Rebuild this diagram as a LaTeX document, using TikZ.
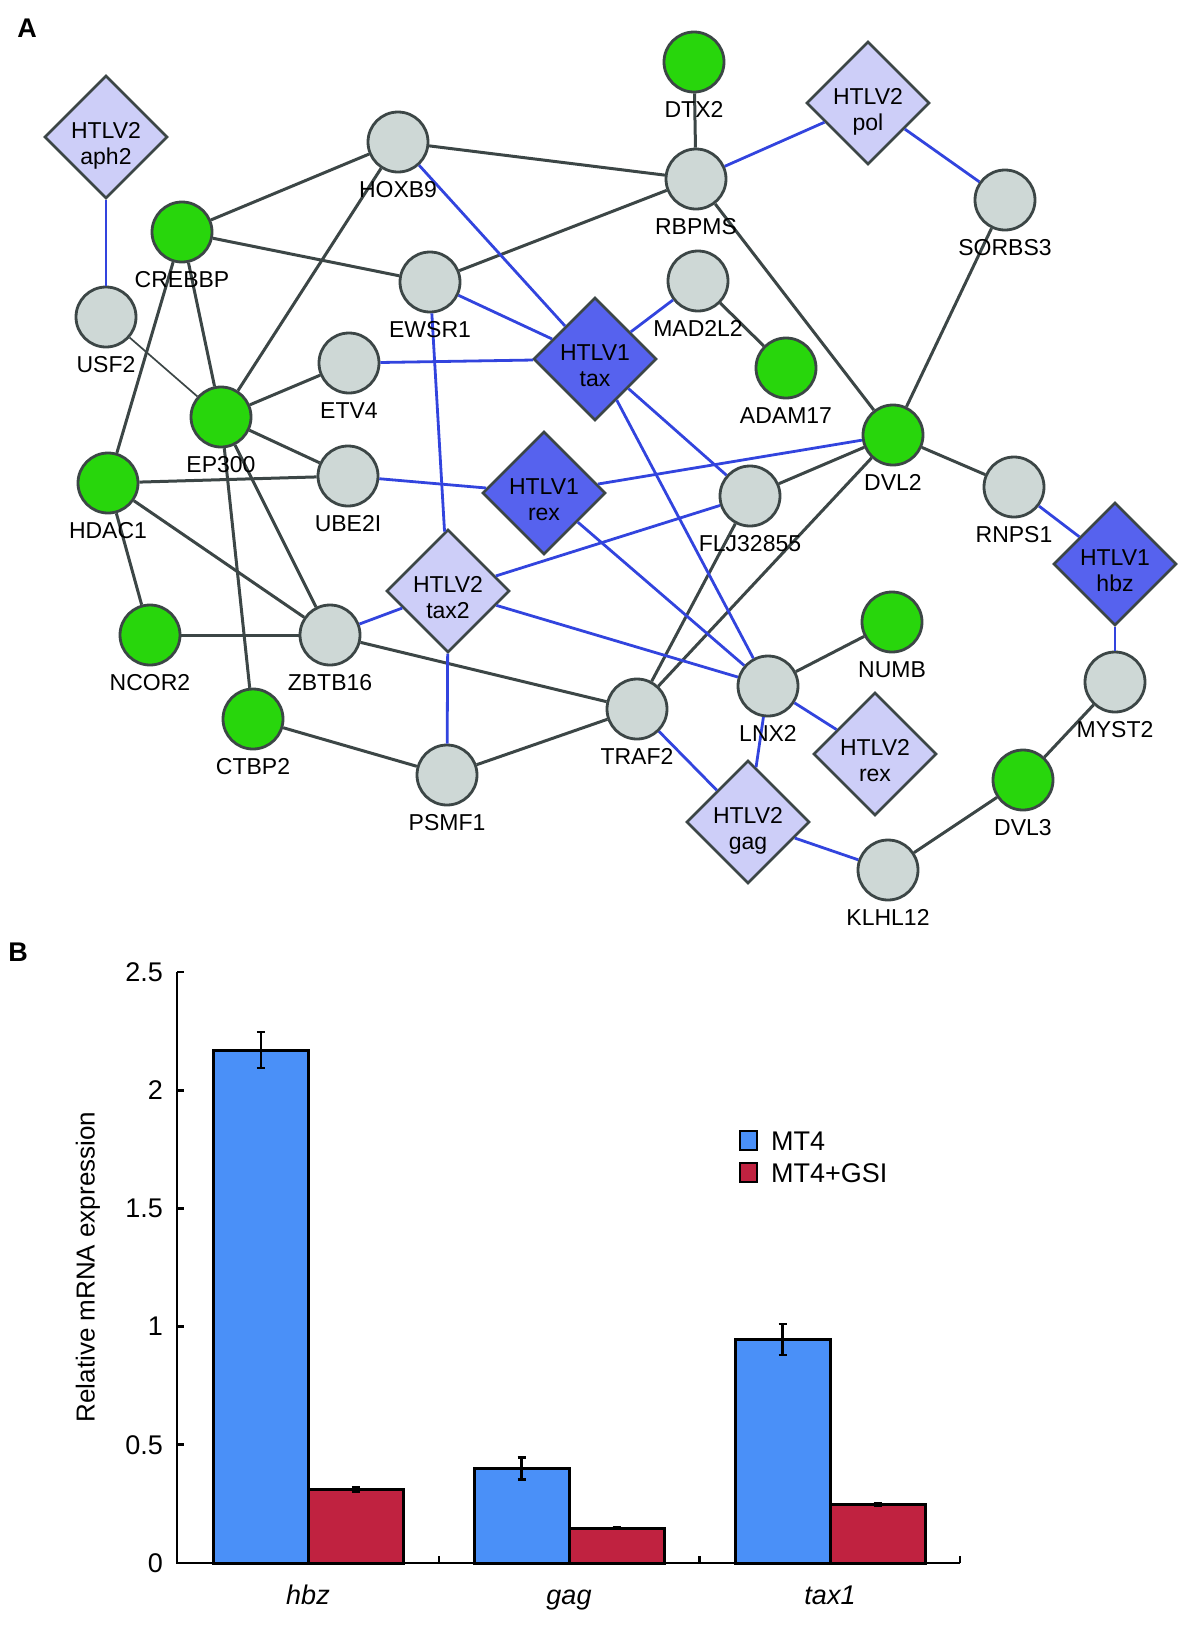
\documentclass[tikz,border=0pt]{standalone}
\usepackage{fontspec}
\setmainfont{Liberation Sans}
\usetikzlibrary{shapes.geometric}
\definecolor{nborder}{RGB}{60,70,70}
\definecolor{gfill}{RGB}{206,216,214}
\definecolor{grfill}{RGB}{40,214,12}
\definecolor{lav}{RGB}{205,206,248}
\definecolor{dblue}{RGB}{86,98,238}
\definecolor{egray}{RGB}{60,70,70}
\definecolor{eblue}{RGB}{50,68,222}
\definecolor{barblue}{RGB}{74,144,248}
\definecolor{barred}{RGB}{192,34,64}
\begin{document}
\begin{tikzpicture}[x=1pt,y=-1pt,
  gn/.style={circle, draw=nborder, line width=2.8pt, fill=gfill, minimum size=60pt, inner sep=0pt},
  gr/.style={gn, fill=grfill},
  ld/.style={diamond, aspect=1, draw=nborder, line width=2.7pt, fill=lav, minimum width=123pt, minimum height=123pt, inner sep=0pt},
  dd/.style={ld, fill=dblue},
  lbl/.style={font=\fontsize{23}{26.7}\selectfont, anchor=base, inner sep=0pt},
  dtxt/.style={font=\fontsize{23}{26.7}\selectfont, align=center, anchor=north, inner sep=0pt},
  ge/.style={draw=egray, line width=3pt},
  gthin/.style={draw=egray, line width=1.7pt},
  be/.style={draw=eblue, line width=2.8pt},
  bthin/.style={draw=eblue, line width=1.7pt},
  ax/.style={draw=black, line width=2.8pt},
  barst/.style={draw=black, line width=3pt},
  err/.style={draw=black, line width=2.4pt},
  cf/.style={font=\fontsize{27}{31}\selectfont, inner sep=0pt},
  hd/.style={font=\bfseries\fontsize{27}{32}\selectfont, inner sep=0pt}
]
\useasboundingbox (0,0) rectangle (1200,1626);
\node[hd] (pA) at (27,28) {A};
\node[hd] (pB) at (18,952) {B};

% circle nodes
\foreach \n/\x/\y/\t/\s in {
  hoxb9/398/142/HOXB9/gn, dtx2/694/62/DTX2/gr, rbpms/696/179/RBPMS/gn,
  sorbs3/1005/200/SORBS3/gn, crebbp/182/232/CREBBP/gr, ewsr1/430/282/EWSR1/gn,
  mad2l2/698/281/MAD2L2/gn, usf2/106/317/USF2/gn, etv4/349/363/ETV4/gn,
  adam17/786/368/ADAM17/gr, ep300/221/417/EP300/gr, dvl2/893/435/DVL2/gr,
  hdac1/108/483/HDAC1/gr, ube2i/348/476/UBE2I/gn, flj/750/496/FLJ32855/gn,
  rnps1/1014/487/RNPS1/gn, numb/892/622/NUMB/gr, ncor2/150/635/NCOR2/gr,
  zbtb16/330/635/ZBTB16/gn, lnx2/768/686/LNX2/gn, myst2/1115/682/MYST2/gn,
  traf2/637/709/TRAF2/gn, ctbp2/253/719/CTBP2/gr, psmf1/447/775/PSMF1/gn,
  dvl3/1023/780/DVL3/gr, klhl12/888/870/KLHL12/gn}
{
  \node[\s] (\n) at (\x,\y) {};
}

% diamonds
\foreach \n/\x/\y/\t/\s in {
  aph2/106/137/aph2/ld, pol/868/103/pol/ld, tax/595/359/tax/dd,
  rexa/544/493/rex/dd, taxb/448/591/tax2/ld, hbz/1115/564/hbz/dd,
  rexb/875/754/rex/ld, gag/748/822/gag/ld}
{
  \node[\s] (\n) at (\x,\y) {};
}

% gray edges
\foreach \a/\b in {hoxb9/rbpms, hoxb9/crebbp, hoxb9/ep300, crebbp/ewsr1, crebbp/ep300,
  crebbp/hdac1, ewsr1/rbpms, dtx2/rbpms, rbpms/dvl2, sorbs3/dvl2, mad2l2/adam17,
  ep300/etv4, ep300/ube2i, ep300/zbtb16, ep300/ctbp2, hdac1/ube2i, hdac1/zbtb16,
  hdac1/ncor2, ncor2/zbtb16, zbtb16/traf2, ctbp2/psmf1, psmf1/traf2, traf2/flj,
  traf2/dvl2, flj/dvl2, dvl2/rnps1, lnx2/numb, klhl12/dvl3, dvl3/myst2}
  \draw[ge] (\a) -- (\b);
\draw[gthin] (usf2) -- (ep300);

% blue edges
\foreach \a/\b in {rbpms/pol, pol/sorbs3, hoxb9/tax, ewsr1/tax, etv4/tax, mad2l2/tax,
  tax/flj, tax/lnx2, ewsr1/taxb, ube2i/rexa, rexa/dvl2, rexa/lnx2, taxb/flj,
  taxb/zbtb16, taxb/lnx2, taxb/psmf1, lnx2/rexb, lnx2/gag, traf2/gag, gag/klhl12,
  rnps1/hbz, hbz/myst2}
  \draw[be] (\a) -- (\b);
\draw[bthin] (aph2) -- (usf2);

% labels
\foreach \n/\x/\y/\t in {
  hoxb9/398/142/HOXB9, dtx2/694/62/DTX2, rbpms/696/179/RBPMS,
  sorbs3/1005/200/SORBS3, crebbp/182/232/CREBBP, ewsr1/430/282/EWSR1,
  mad2l2/698/281/MAD2L2, usf2/106/317/USF2, etv4/349/363/ETV4,
  adam17/786/368/ADAM17, ep300/221/417/EP300, dvl2/893/435/DVL2,
  hdac1/108/483/HDAC1, ube2i/348/476/UBE2I, flj/750/496/FLJ32855,
  rnps1/1014/487/RNPS1, numb/892/622/NUMB, ncor2/150/635/NCOR2,
  zbtb16/330/635/ZBTB16, lnx2/768/686/LNX2, myst2/1115/682/MYST2,
  traf2/637/709/TRAF2, ctbp2/253/719/CTBP2, psmf1/447/775/PSMF1,
  dvl3/1023/780/DVL3, klhl12/888/870/KLHL12}
{
  \node[lbl] (\n-l) at (\x,\y+55) {\t};
}
\foreach \n/\x/\y/\t/\v in {
  aph2/106/137/aph2/2, pol/868/103/pol/2, tax/595/359/tax/1,
  rexa/544/493/rex/1, taxb/448/591/tax2/2, hbz/1115/564/hbz/1,
  rexb/875/754/rex/2, gag/748/822/gag/2}
{
  \node[dtxt] (\n-t) at (\x,\y-15) {HTLV\v\\\t};
}

% ---------- chart B ----------
\draw[ax] (177,972) -- (177,1563) -- (960,1563);
\foreach \v/\s in {0/0, 0.5/0.5, 1/1, 1.5/1.5, 2/2, 2.5/2.5}{
  \draw[ax] (177,{1563-236.4*\v}) -- (184,{1563-236.4*\v});
  \node[cf, anchor=east] (tk\s) at (163,{1563-236.4*\v}) {\s};
}
\foreach \x in {439,699.5,960}
  \draw[ax] (\x,1563) -- (\x,1556);

\foreach \xa/\xb/\v/\e/\c in {
  213/308.5/2.17/0.075/barblue, 308.5/403/0.31/0.01/barred,
  474/569/0.40/0.047/barblue, 569/664/0.148/0.005/barred,
  735/830/0.945/0.065/barblue, 830/925/0.247/0.005/barred}
{
  \draw[barst, fill=\c] (\xa,1563) rectangle (\xb,{1563-236.4*\v});
  \draw[err] ({(\xa+\xb)/2},{1563-236.4*(\v+\e)}) -- ({(\xa+\xb)/2},{1563-236.4*(\v-\e)});
  \draw[err] ({(\xa+\xb)/2-4},{1563-236.4*(\v+\e)}) -- ({(\xa+\xb)/2+4},{1563-236.4*(\v+\e)});
  \draw[err] ({(\xa+\xb)/2-4},{1563-236.4*(\v-\e)}) -- ({(\xa+\xb)/2+4},{1563-236.4*(\v-\e)});
}

\node[cf, anchor=base, font=\itshape\fontsize{27}{31}\selectfont] (c1) at (308,1604) {hbz};
\node[cf, anchor=base, font=\itshape\fontsize{27}{31}\selectfont] (c2) at (569,1604) {gag};
\node[cf, anchor=base, font=\itshape\fontsize{27}{31}\selectfont] (c3) at (830,1604) {tax1};

\node[cf, rotate=90, font=\fontsize{26}{30}\selectfont] (ylab) at (88,1267) {Relative mRNA expression};

\draw[draw=black, line width=2.4pt, fill=barblue] (740,1131) rectangle (757,1150);
\draw[draw=black, line width=2.4pt, fill=barred] (740,1163) rectangle (757,1182);
\node[cf, anchor=west] (lg1) at (771,1141) {MT4};
\node[cf, anchor=west] (lg2) at (771,1173) {MT4+GSI};
\end{tikzpicture}
\end{document}
